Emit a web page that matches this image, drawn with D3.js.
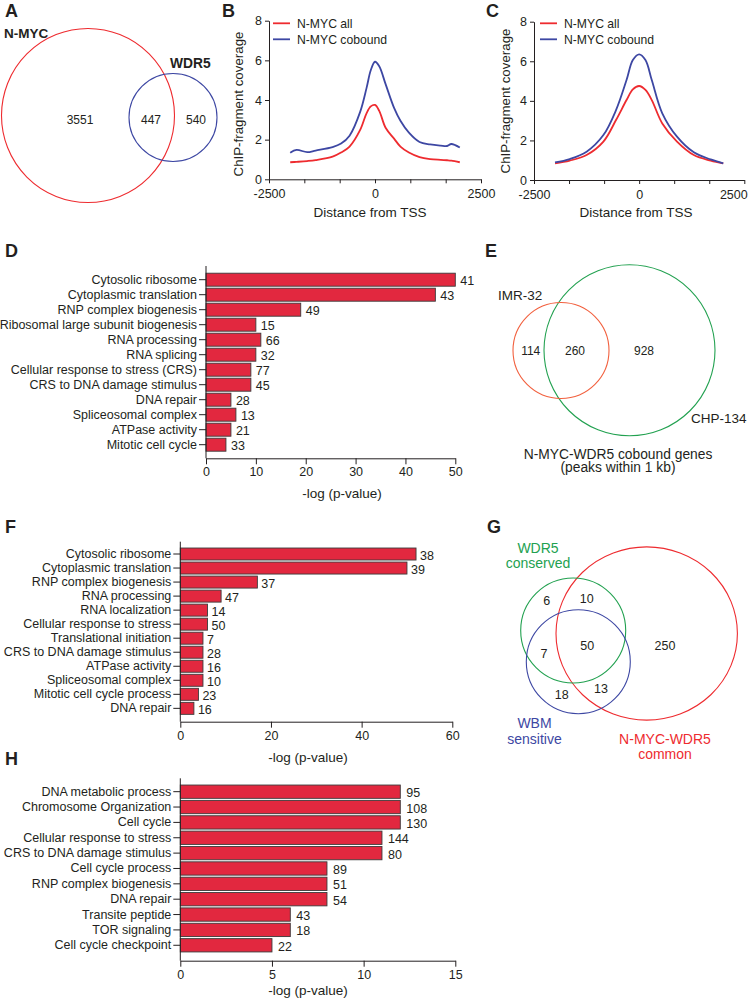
<!DOCTYPE html>
<html><head><meta charset="utf-8">
<script src="https://cdn.jsdelivr.net/npm/d3@7"></script>
<style>
body{margin:0;background:#fff;}
svg{display:block;font-family:"Liberation Sans",Arial,sans-serif;}
</style></head><body>
<svg id="fig" width="751" height="1000"></svg>
<script>
// ---------------- Data ----------------
const panelLetters = ["A","B","C","D","E","F","G","H"];

const vennASets = ["N-MYC", "WDR5"];
const vennACounts = [3551, 447, 540];

const tssLegend = ["N-MYC all", "N-MYC cobound"];
const tssXTicks = [-2500, -1667, -833, 0, 833, 1667, 2500];
const tssXLabelled = [-2500, 0, 2500];
const tssYTicks = [0, 2, 4, 6, 8];

const bPos = [-2000,-1850,-1600,-1400,-1000,-800,-600,-350,-200,-100,0,100,250,450,600,800,1050,1300,1550,1700,1800,2000];
const bAll = [0.86,0.88,0.92,0.97,1.14,1.35,1.65,2.49,3.33,3.68,3.75,3.45,2.6,2.05,1.65,1.35,1.12,1.02,0.98,0.96,0.94,0.86];
const bCobound = [1.34,1.48,1.37,1.45,1.62,1.8,2.2,3.4,4.6,5.5,5.93,5.7,4.8,3.6,2.95,2.35,1.88,1.76,1.7,1.68,1.78,1.6];

const cPos = [-2000,-1650,-1250,-850,-550,-300,-150,0,150,300,550,900,1300,1700,2000];
const cAll = [0.84,0.98,1.26,1.94,3.03,4.04,4.58,4.75,4.55,4.04,2.86,1.94,1.26,0.98,0.84];
const cCobound = [0.89,1.06,1.43,2.27,3.53,5.05,6.06,6.35,6.06,5.05,3.37,2.19,1.4,1.04,0.84];

const dCats = ["Cytosolic ribosome","Cytoplasmic translation","RNP complex biogenesis","Ribosomal large subunit biogenesis","RNA processing","RNA splicing","Cellular response to stress (CRS)","CRS to DNA damage stimulus","DNA repair","Spliceosomal complex","ATPase activity","Mitotic cell cycle"];
const dVals = [50,46,19,10,11,10,9,9,5,6,5,4];
const dCounts = [41,43,49,15,66,32,77,45,28,13,21,33];
const dTicks = [0,10,20,30,40,50];

const vennESets = ["IMR-32", "CHP-134"];
const vennECounts = [114, 260, 928];
const vennETitle = ["N-MYC-WDR5 cobound genes", "(peaks within 1 kb)"];

const fCats = ["Cytosolic ribosome","Cytoplasmic translation","RNP complex biogenesis","RNA processing","RNA localization","Cellular response to stress","Translational initiation","CRS to DNA damage stimulus","ATPase activity","Spliceosomal complex","Mitotic cell cycle process","DNA repair"];
const fVals = [52,50,17,9,6,6,5,5,5,5,4,3];
const fCounts = [38,39,37,47,14,50,7,28,16,10,23,16];
const fTicks = [0,20,40,60];

const vennGSets = [["WDR5","conserved"],["WBM","sensitive"],["N-MYC-WDR5","common"]];
const vennGCounts = [6,10,7,50,250,18,13];

const hCats = ["DNA metabolic process","Chromosome Organization","Cell cycle","Cellular response to stress","CRS to DNA damage stimulus","Cell cycle process","RNP complex biogenesis","DNA repair","Transite peptide","TOR signaling","Cell cycle checkpoint"];
const hVals = [12,12,12,11,11,8,8,8,6,6,5];
const hCounts = [95,108,130,144,80,89,51,54,43,18,22];
const hTicks = [0,5,10,15];

const axisTitle = "-log (p-value)";
// --------------------------------------

const svg = d3.select("#fig");
svg.append("rect").attr("width",751).attr("height",1000).attr("fill","#fff");
const INK = "#231f20";
const RED = "#ee2b2f", BLUE = "#3d47a3", GREEN = "#22a150", ORANGE = "#f2603e";
const BARFILL = "#e2283f";

function txt(g, x, y, s, size, opts = {}) {
  return g.append("text").attr("x", x).attr("y", y).text(s)
    .attr("font-size", size).attr("fill", opts.fill || INK)
    .attr("font-weight", opts.bold ? "bold" : null)
    .attr("text-anchor", opts.anchor || "start")
    .attr("transform", opts.rotate ? `rotate(-90,${x},${y})` : null);
}
function styleAxis(g, fs) {
  g.selectAll("path, line").attr("stroke", INK).attr("stroke-width", 1);
  g.selectAll("text").attr("fill", INK).attr("font-size", fs).attr("font-family", '"Liberation Sans",Arial,sans-serif');
}

// Panel letters
const letterPos = [[5,17],[222,17],[486,17],[5,257],[485,257],[5,533],[487,533],[5,765]];
panelLetters.forEach((l,i) => txt(svg, letterPos[i][0], letterPos[i][1], l, 18, {bold:true}));

// ---------- Panel A ----------
{
  const g = svg.append("g");
  g.append("ellipse").attr("cx",88).attr("cy",115.5).attr("rx",86.5).attr("ry",87)
    .attr("fill","none").attr("stroke",RED).attr("stroke-width",1.1);
  g.append("circle").attr("cx",173).attr("cy",117.5).attr("r",44)
    .attr("fill","none").attr("stroke",BLUE).attr("stroke-width",1.1);
  txt(g, 4, 38, vennASets[0], 13.5, {bold:true});
  txt(g, 170, 68, vennASets[1], 13.8, {bold:true});
  const pos = [[80,123.5],[151,123.5],[196,123.5]];
  vennACounts.forEach((c,i) => txt(g, pos[i][0], pos[i][1], c, 12, {anchor:"middle"}));
}

// ---------- Panels B & C ----------
function tssPanel(cfg) {
  const g = svg.append("g");
  const x = d3.scaleLinear().domain([-2500,2500]).range(cfg.xr);
  const y = d3.scaleLinear().domain([0,8]).range(cfg.yr);
  const xa = g.append("g").attr("transform",`translate(0,${cfg.yr[0]})`)
    .call(d3.axisBottom(x).tickValues(tssXTicks).tickSize(4).tickSizeOuter(0).tickPadding(6)
      .tickFormat(d => tssXLabelled.includes(d) ? d : ""));
  styleAxis(xa, 12.5);
  if (cfg.lastShift) {
    xa.selectAll(".tick").filter(d => d === 2500).select("text").attr("dx", cfg.lastShift);
  }
  const ya = g.append("g").attr("transform",`translate(${cfg.xr[0]},0)`)
    .call(d3.axisLeft(y).tickValues(tssYTicks).tickSize(4).tickSizeOuter(0).tickPadding(3));
  styleAxis(ya, 12.5);
  const line = d3.line().x(d => x(d[0])).y(d => y(d[1])).curve(d3.curveCatmullRom.alpha(0.5));
  const series = [[cfg.all, RED],[cfg.cob, BLUE]];
  series.forEach(([vals,col]) => {
    g.append("path").datum(cfg.pos.map((p,i)=>[p,vals[i]]))
      .attr("d", line).attr("fill","none").attr("stroke",col).attr("stroke-width",1.8);
  });
  // legend
  tssLegend.forEach((l,i) => {
    const ly = 23.3 + i*16;
    g.append("line").attr("x1",cfg.lx).attr("x2",cfg.lx+17).attr("y1",ly).attr("y2",ly)
      .attr("stroke", i===0?RED:BLUE).attr("stroke-width",1.8);
    txt(g, cfg.lx+24, ly+4.3, l, 12.2);
  });
  txt(g, cfg.ylx, cfg.yly, "ChIP-fragment coverage", 13.3, {anchor:"middle", rotate:true});
  txt(g, cfg.xlx, 216.5, "Distance from TSS", 13.5, {anchor:"middle"});
}
tssPanel({xr:[269,481], yr:[179.3,20.7], pos:bPos, all:bAll, cob:bCobound, lx:273, ylx:243, yly:104, xlx:370});
tssPanel({xr:[534,744.3], yr:[180,21.7], pos:cPos, all:cAll, cob:cCobound, lx:540, ylx:510, yly:101, xlx:636, lastShift:-11});

// ---------- Bar panels ----------
function barPanel(cfg) {
  const g = svg.append("g");
  const x = d3.scaleLinear().domain([0, cfg.max]).range([cfg.x0, cfg.x1]);
  const n = cfg.cats.length;
  const step = cfg.step, bw = cfg.bw;
  const p = (step - bw)/step;
  const y = d3.scaleBand().domain(cfg.cats).range([cfg.r0, cfg.r0 + step*n]).paddingInner(p).paddingOuter(p/2);
  g.selectAll("rect.bar").data(cfg.cats).enter().append("rect")
    .attr("x", x(0)).attr("y", d => y(d)).attr("height", y.bandwidth())
    .attr("width", (d,i) => x(cfg.vals[i]) - x(0))
    .attr("fill", BARFILL).attr("stroke", "#3b3b3b").attr("stroke-width", 0.9);
  g.selectAll("text.cnt").data(cfg.cats).enter().append("text")
    .attr("x", (d,i) => x(cfg.vals[i]) + cfg.gap)
    .attr("y", d => y(d) + y.bandwidth()/2 + 5.5)
    .text((d,i) => cfg.counts[i]).attr("font-size", 12.5).attr("fill", INK);
  const ya = g.append("g").attr("transform",`translate(${cfg.x0},0)`)
    .call(d3.axisLeft(y).tickSize(7).tickPadding(2));
  ya.select(".domain").remove();
  styleAxis(ya, 12.5);
  g.append("line").attr("x1",cfg.x0).attr("x2",cfg.x0).attr("y1",cfg.top).attr("y2",cfg.bottom)
    .attr("stroke",INK).attr("stroke-width",1);
  const xa = g.append("g").attr("transform",`translate(0,${cfg.bottom})`)
    .call(d3.axisBottom(x).tickValues(cfg.ticks).tickSize(6).tickSizeOuter(0).tickPadding(3));
  styleAxis(xa, 12.5);
  txt(g, cfg.tx, cfg.ty, axisTitle, 13.5, {anchor:"middle"});
}
barPanel({cats:dCats, vals:dVals, counts:dCounts, ticks:dTicks, max:50, x0:206, x1:455.3,
  r0:272.2, step:15, bw:13, top:266, bottom:458.3, gap:5, tx:342, ty:498});
barPanel({cats:fCats, vals:fVals, counts:fCounts, ticks:fTicks, max:60, x0:180.3, x1:452.3,
  r0:547, step:14.03, bw:12, top:541.7, bottom:721.7, gap:4, tx:308, ty:762});
barPanel({cats:hCats, vals:hVals, counts:hCounts, ticks:hTicks, max:15, x0:180.3, x1:455.3,
  r0:784, step:15.36, bw:13.3, top:778.3, bottom:960.7, gap:6, tx:308, ty:995});

// ---------- Panel E ----------
{
  const g = svg.append("g");
  g.append("circle").attr("cx",629.5).attr("cy",350.3).attr("r",85.5)
    .attr("fill","none").attr("stroke",GREEN).attr("stroke-width",1.1);
  g.append("circle").attr("cx",561).attr("cy",350.5).attr("r",48)
    .attr("fill","none").attr("stroke",ORANGE).attr("stroke-width",1.1);
  txt(g, 498, 299.5, vennESets[0], 13.5);
  txt(g, 691, 423, vennESets[1], 13.5);
  const pos = [[530.7,354.5],[575,354.5],[644,354.5]];
  vennECounts.forEach((c,i) => txt(g, pos[i][0], pos[i][1], c, 12, {anchor:"middle"}));
  txt(g, 618, 458.5, vennETitle[0], 13.8, {anchor:"middle"});
  txt(g, 618, 472, vennETitle[1], 13.8, {anchor:"middle"});
}

// ---------- Panel G ----------
{
  const g = svg.append("g");
  g.append("ellipse").attr("cx",646.7).attr("cy",633.5).attr("rx",90.7).attr("ry",86.6)
    .attr("fill","none").attr("stroke",RED).attr("stroke-width",1.1);
  g.append("circle").attr("cx",573.2).attr("cy",630.5).attr("r",52.5)
    .attr("fill","none").attr("stroke",GREEN).attr("stroke-width",1.1);
  g.append("circle").attr("cx",578.3).attr("cy",661.7).attr("r",52)
    .attr("fill","none").attr("stroke",BLUE).attr("stroke-width",1.1);
  const labPos = [[538,553.3,568.3,GREEN],[534.5,728.3,744.3,BLUE],[665,744.3,759,RED]];
  vennGSets.forEach((s,i) => {
    txt(g, labPos[i][0], labPos[i][1], s[0], 14, {anchor:"middle", fill:labPos[i][3]});
    txt(g, labPos[i][0], labPos[i][2], s[1], 14, {anchor:"middle", fill:labPos[i][3]});
  });
  const pos = [[546.7,604.5],[586.7,603],[544,658],[587.3,649.5],[665,649.5],[561.7,699],[601,693]];
  vennGCounts.forEach((c,i) => txt(g, pos[i][0], pos[i][1], c, 12.5, {anchor:"middle"}));
}
</script>
</body></html>
